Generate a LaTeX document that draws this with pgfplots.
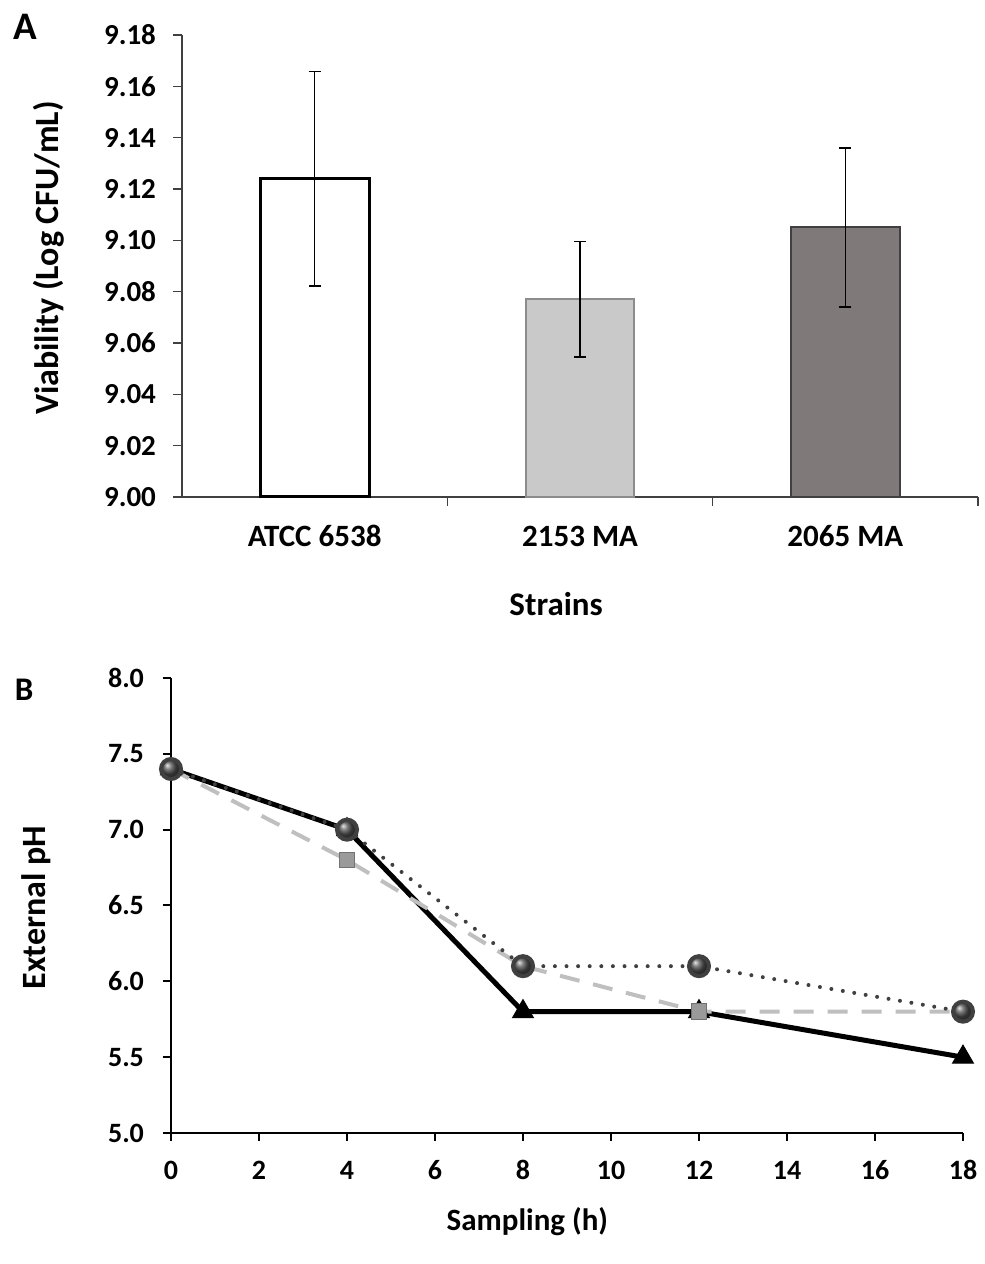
\documentclass[border=0pt]{standalone}
\usepackage{fontspec}
\setmainfont{Carlito}
\usepackage{pgfplots}
\pgfplotsset{compat=1.18}
\definecolor{bargray}{HTML}{C9C9C9}
\definecolor{bardark}{HTML}{7F7A79}
\definecolor{dashgray}{HTML}{BFBFBF}
\definecolor{sqgray}{HTML}{9A9A9A}
\definecolor{dotgray}{HTML}{404040}
\begin{document}
\begin{tikzpicture}
\path (0,0) rectangle (490pt,632pt);
\node[font=\bfseries\fontsize{19.5}{22}\selectfont] at (12.5pt,618.5pt) {A};
\node[font=\bfseries\fontsize{16.5}{20}\selectfont] at (12pt,287pt) {B};
\begin{axis}[
  at={(91pt,383.5pt)}, anchor=south west,
  scale only axis, width=398pt, height=231pt,
  xmin=-0.5, xmax=2.5, ymin=9, ymax=9.18,
  axis x line=bottom, axis y line=left,
  axis line style={-, black!75, line width=0.75pt},
  tick align=outside, major tick length=4.5pt,
  tick style={black!75, line width=0.75pt},
  ytick={9,9.02,9.04,9.06,9.08,9.10,9.12,9.14,9.16,9.18},
  /pgf/number format/assume math mode=true,
  yticklabel style={/pgf/number format/fixed, /pgf/number format/fixed zerofill, /pgf/number format/precision=2, font=\bfseries\fontsize{14.5}{17}\selectfont, xshift=-5pt},
  xtick={0.5,1.5,2.5}, xticklabels={},
  extra x ticks={0,1,2},
  extra x tick labels={ATCC 6538, 2153 MA, 2065 MA},
  extra x tick style={major tick length=0pt, xticklabel style={font=\bfseries\fontsize{15.5}{18}\selectfont, text height=11pt, text depth=3pt, yshift=-10pt}},
  xlabel={Strains},
  xlabel style={font=\bfseries\fontsize{16.5}{19}\selectfont, at={(axis description cs:0.47,-0.2316)}, anchor=center},
  ylabel={Viability (Log CFU/mL)},
  ylabel style={font=\bfseries\fontsize{17}{20}\selectfont, at={(axis description cs:-0.168,0.517)}, anchor=center},
  clip=false,
]
\addplot[ybar, bar width=0.41, bar shift=0pt, fill=white, draw=black, line width=1.5pt,
  error bars/.cd, y dir=both, y explicit,
  error bar style={line width=0.75pt, black},
  error mark options={rotate=90, mark size=3pt, line width=0.75pt, black}]
  coordinates {(0,9.124) +- (0,0.0417)};
\addplot[ybar, bar width=0.41, bar shift=0pt, fill=bargray, draw=black!45, line width=1pt,
  error bars/.cd, y dir=both, y explicit,
  error bar style={line width=0.75pt, black},
  error mark options={rotate=90, mark size=3pt, line width=0.75pt, black}]
  coordinates {(1,9.077) +- (0,0.0225)};
\addplot[ybar, bar width=0.41, bar shift=0pt, fill=bardark, draw=black!75, line width=1pt,
  error bars/.cd, y dir=both, y explicit,
  error bar style={line width=0.75pt, black},
  error mark options={rotate=90, mark size=3pt, line width=0.75pt, black}]
  coordinates {(2,9.105) +- (0,0.031)};
\end{axis}
\begin{axis}[
  at={(85.5pt,65.5pt)}, anchor=south west,
  scale only axis, width=396pt, height=227.5pt,
  xmin=0, xmax=18, ymin=5, ymax=8,
  axis x line=bottom, axis y line=left,
  axis line style={-, black, line width=1pt},
  tick align=outside, major tick length=4pt,
  tick style={black, line width=1pt},
  xtick={0,2,4,6,8,10,12,14,16,18},
  ytick={5,5.5,6,6.5,7,7.5,8},
  /pgf/number format/assume math mode=true,
  yticklabel style={/pgf/number format/fixed, /pgf/number format/fixed zerofill, /pgf/number format/precision=1, font=\bfseries\fontsize{14}{17}\selectfont, xshift=-6pt},
  xticklabel style={font=\bfseries\fontsize{14}{16}\selectfont, text height=10pt, text depth=2pt, yshift=-5.5pt},
  xlabel={Sampling (h)},
  xlabel style={font=\bfseries\fontsize{15.5}{18}\selectfont, at={(axis description cs:0.45,-0.1956)}, anchor=center},
  ylabel={External pH},
  ylabel style={font=\bfseries\fontsize{17}{20}\selectfont, at={(axis description cs:-0.17,0.495)}, anchor=center},
  clip=false,
]
\addplot[black, line width=2.5pt, mark=triangle*, mark size=6pt, mark options={solid, fill=black, line width=0.5pt}]
  coordinates {(0,7.4) (4,7.0) (8,5.8) (12,5.8) (18,5.5)};
\addplot[dashgray, line width=2pt, dash pattern=on 10pt off 7pt, mark=square*, mark size=3.9pt,
  mark options={solid, fill=sqgray, draw=black!55, line width=0.5pt}]
  coordinates {(0,7.4) (4,6.8) (8,6.1) (12,5.8) (18,5.8)};
\addplot[dotgray, line width=2pt, line cap=round, dash pattern=on 0pt off 5.8pt, mark=ball, mark size=5pt,
  mark options={solid, ball color=black!70}]
  coordinates {(0,7.4) (4,7.0) (8,6.1) (12,6.1) (18,5.8)};
\end{axis}
\end{tikzpicture}
\end{document}
